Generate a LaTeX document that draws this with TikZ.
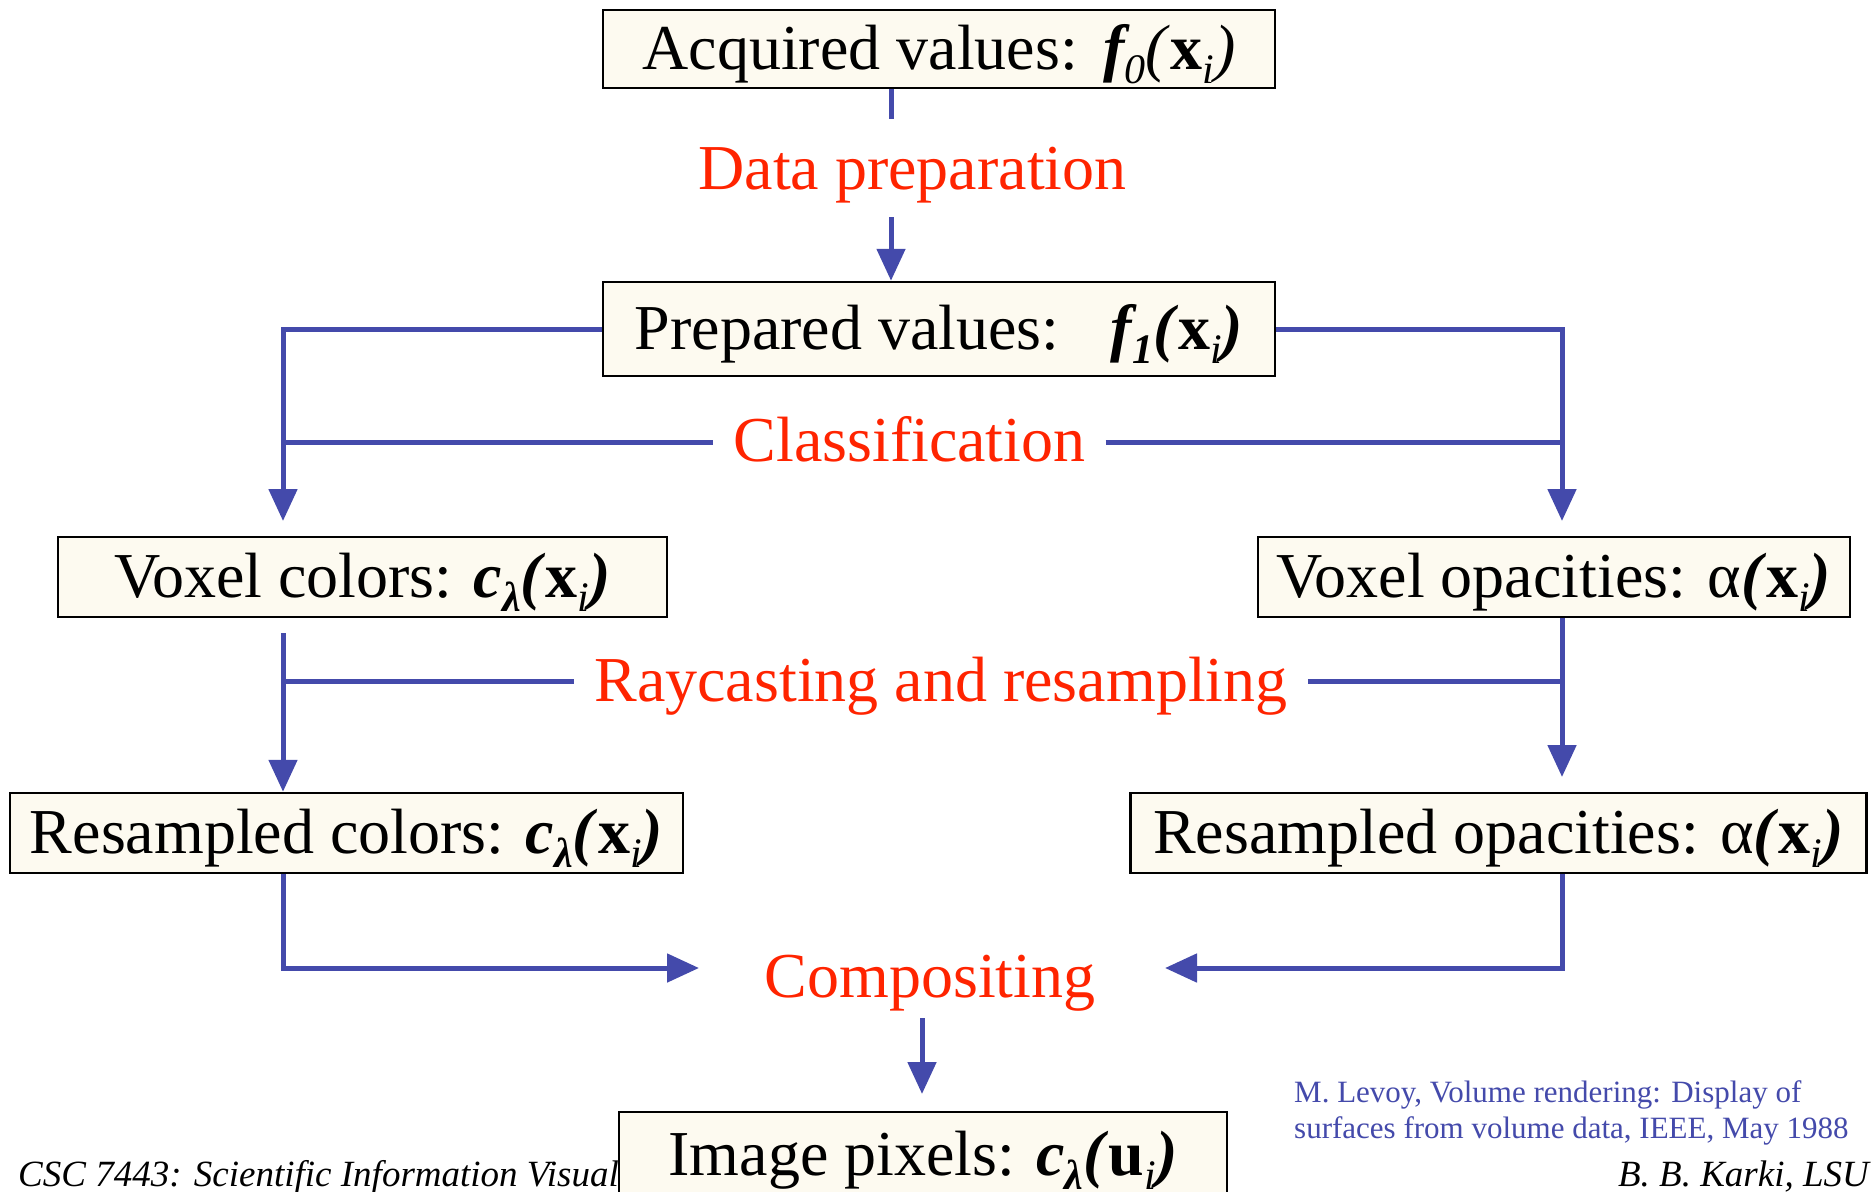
\documentclass[tikz,border=0pt]{standalone}
\usepackage{fontspec}
\setmainfont{Liberation Serif}
\usepackage{graphicx}
\usetikzlibrary{arrows.meta}
\definecolor{lnblue}{RGB}{68,74,171}
\definecolor{lblred}{RGB}{255,36,0}
\definecolor{boxfill}{RGB}{253,250,240}
\newcommand\bi[1]{{\bfseries\itshape #1}}
\newcommand\sbx[1]{\raisebox{-0.22em}{\fontsize{42}{42}\selectfont #1}}
\tikzset{
  box/.style={draw=black, line width=2.5pt, fill=boxfill, inner sep=0pt, align=center,
    text height=50pt, text depth=10pt, font=\fontsize{64}{70}\selectfont},
  lbl/.style={text=lblred, inner ysep=0pt, inner xsep=20pt, font=\fontsize{64}{70}\selectfont},
  ln/.style={draw=lnblue, line width=5pt},
  arr/.style={ln, -{Triangle[length=32pt,width=28pt]}},
  foot/.style={inner sep=0pt, font=\fontsize{37}{40}\selectfont\itshape},
  cite/.style={inner sep=0pt, text=lnblue, font=\fontsize{31}{34}\selectfont}
}
\begin{document}
\begin{tikzpicture}[x=1pt,y=-1pt]
\useasboundingbox (0,0) rectangle (1873,1191);
\fill[white] (0,0) rectangle (1873,1191);

% footer text (partly hidden under the bottom box)
\node[foot, anchor=base west] (ftl) at (18,1186) {CSC 7443: Scientific Information Visual};
\node[foot, anchor=base east] (ftr) at (1869,1186) {B. B. Karki, LSU};
\node[cite, anchor=base west] (ct1) at (1294,1102) {M. Levoy, Volume rendering: Display of};
\node[cite, anchor=base west] (ct2) at (1294,1138) {surfaces from volume data, IEEE, May 1988};

% boxes
\node[box, minimum width=672pt, minimum height=78pt] (acq) at (939,49)
  {Acquired values:\hspace{0.4em}\bi{f}\sbx{\itshape 0}{\itshape(}\textbf{x}\sbx{\itshape i}{\itshape)}};
\node[box, minimum width=672pt, minimum height=94pt] (prep) at (939,329)
  {Prepared values:\hspace{0.8em}\bi{f}\sbx{\bi{1}}\bi{(}\textbf{x}\sbx{\itshape i}\bi{)}};
\node[box, minimum width=609pt, minimum height=80pt] (vcol) at (362.5,577)
  {Voxel colors: \bi{c}\sbx{\bi{λ}}\bi{(}\textbf{x}\sbx{\itshape i}\bi{)}};
\node[box, minimum width=592pt, minimum height=80pt] (vop) at (1554,577)
  {Voxel opacities: α\bi{(}\textbf{x}\sbx{\itshape i}\bi{)}};
\node[box, minimum width=673pt, minimum height=80pt] (rcol) at (346.5,833)
  {Resampled colors: \bi{c}\sbx{\bi{λ}}\bi{(}\textbf{x}\sbx{\itshape i}\bi{)}};
\node[box, minimum width=736pt, minimum height=80pt] (rop) at (1498.5,833)
  {Resampled opacities: α\bi{(}\textbf{x}\sbx{\itshape i}\bi{)}};
\node[box, minimum width=608pt, minimum height=86pt] (img) at (923,1155)
  {Image pixels: \bi{c}\sbx{\bi{λ}}\bi{(}\textbf{u}\sbx{\itshape i}\bi{)}};

% labels
\node[lbl, anchor=base] (dp) at (912.5,189) {Data preparation};
\node[lbl, anchor=base] (cls) at (909.5,461) {Classification};
\node[lbl, anchor=base] (ray) at (941,701) {Raycasting and resampling};
\node[lbl, anchor=base] (comp) at (930,997) {Compositing};

% coordinates
\coordinate (a1) at (891,119);
\coordinate (a2) at (891,217);
\coordinate (tipL) at (283,521);
\coordinate (tipR) at (1562,521);
\coordinate (clsL) at (283,442);
\coordinate (clsR) at (1562,442);
\coordinate (rayL) at (283,681);
\coordinate (rayR) at (1562,681);
\coordinate (r1) at (283,633);
\coordinate (tipR2) at (1562,777);
\coordinate (cmpL) at (699,968);
\coordinate (cmpR) at (1165,968);
\coordinate (c1) at (922,1018);
\coordinate (c2) at (922,1094);

% connectors
\draw[ln] (acq.south -| a1) -- (a1);
\draw[arr] (a2) -- (a2 |- prep.north);
\draw[arr] (prep.west) -| (tipL);
\draw[arr] (prep.east) -| (tipR);
\draw[ln] (clsL) -- (cls.west |- clsL);
\draw[ln] (cls.east |- clsR) -- (clsR);
\draw[arr] (r1) -- (r1 |- rcol.north);
\draw[arr] (vop.south -| tipR2) -- (tipR2);
\draw[ln] (rayL) -- (ray.west |- rayL);
\draw[ln] (ray.east |- rayR) -- (rayR);
\draw[arr] (rcol.south -| r1) |- (cmpL);
\draw[arr] (rop.south -| tipR2) |- (cmpR);
\draw[arr] (c1) -- (c2);
\end{tikzpicture}
\end{document}
